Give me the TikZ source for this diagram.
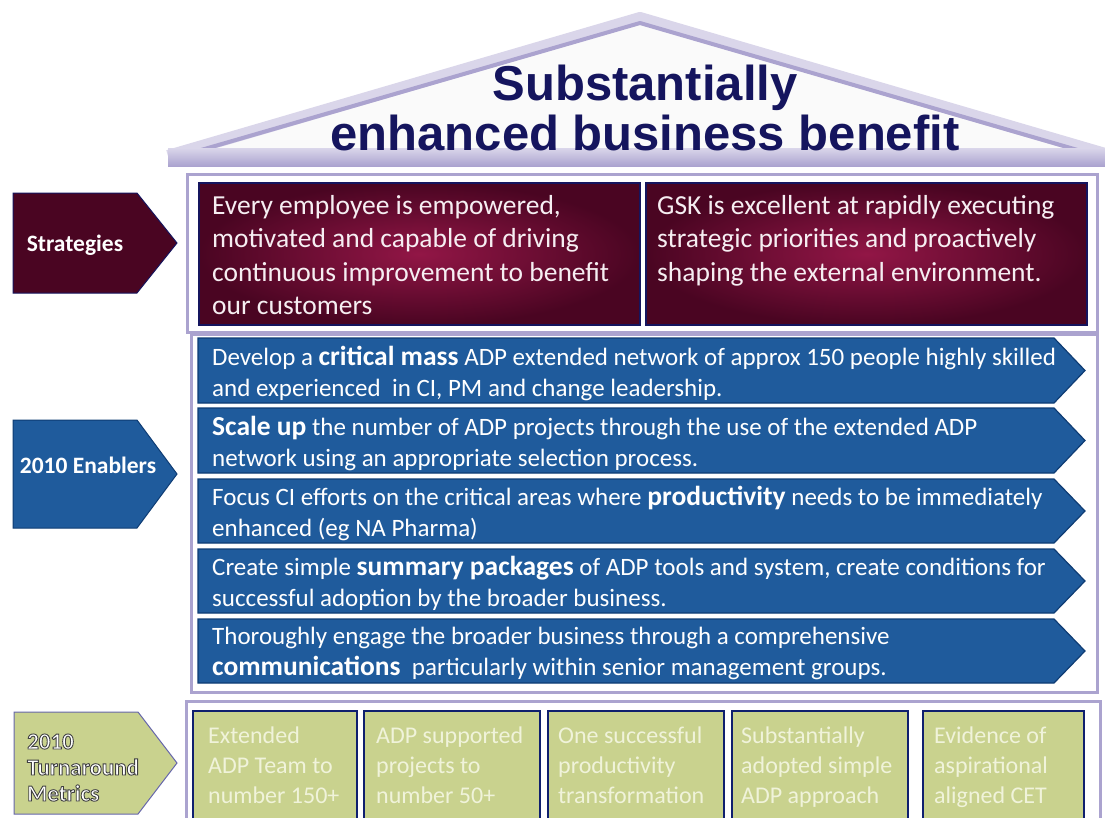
\documentclass[tikz,border=0pt]{standalone}
\usepackage{fontspec}
\setmainfont{Carlito}
\newfontfamily\titlefont{Liberation Sans}
\definecolor{navy}{HTML}{15155E}
\definecolor{lav}{HTML}{ABA3CF}
\definecolor{lavlight}{HTML}{DAD6EA}
\definecolor{maroonD}{HTML}{4A0522}
\definecolor{maroonM}{HTML}{921646}
\definecolor{purpleM}{HTML}{7C1A72}
\definecolor{enblue}{HTML}{1F5B9C}
\definecolor{enbluelt}{HTML}{4A7EBE}
\definecolor{enblueD}{HTML}{0E3C74}
\definecolor{mgreen}{HTML}{C9D28E}
\definecolor{mgreenlt}{HTML}{F0F3DA}
\definecolor{mborder}{HTML}{0F1F6E}
\definecolor{striptxt}{HTML}{F6EEF2}
\newcommand\outlinedtext[1]{\special{pdf:code 2 Tr 0.9 w 0.25 0.25 0.25 RG}#1\special{pdf:code 0 Tr}}
\newcommand\bigb[1]{{\bfseries\fontsize{27.5}{31}\selectfont #1}}
\begin{document}
\begin{tikzpicture}[x=1pt,y=-1pt,
  panel/.style={fill=white,draw=lav,line width=3pt},
  stratbox/.style={draw=navy,line width=1.5pt,inner color=maroonM,outer color=maroonD},
  stratxt/.style={anchor=base west,inner sep=0pt,align=left,text=striptxt,font=\fontsize{27.5}{33.5}\selectfont},
  enarrow/.style={fill=enblue,draw=enblueD,line width=1.2pt},
  entxt/.style={anchor=base west,inner sep=0pt,align=left,text=white,font=\fontsize{25}{31}\selectfont},
  metbox/.style={fill=mgreen,draw=mborder,line width=2.5pt},
  mettxt/.style={anchor=base west,inner sep=0pt,align=left,text=mgreenlt,font=\fontsize{24}{30}\selectfont},
  lbltxt/.style={inner sep=0pt,text=white,font=\bfseries\fontsize{23.5}{27}\selectfont},
]
\useasboundingbox (0,0) rectangle (1105,817);
\fill[white] (0,0) rectangle (1105,817);

% roof
\fill[black!2] (168,156) -- (640,18) -- (1112,156) -- cycle;
\draw[line width=12pt,color=lavlight,line join=round] (168,156) -- (640,18) -- (1112,156);
\draw[line width=4pt,color=lav,line join=round] (170,159) -- (640,23) -- (1112,160);
\shade[top color=lavlight,bottom color=lav] (168,148) rectangle (1105,166);

\node[font=\titlefont\bfseries\fontsize{49}{50}\selectfont,text=navy,align=center,anchor=base,inner sep=0pt] (title) at (645,150) {Substantially\\enhanced business benefit};

% panels
\draw[panel] (187,174) rectangle (1097,332);
\draw[panel] (191,334) rectangle (1097,692);
\draw[panel] (186,701) rectangle (1100,840);

% left labels
\shade[top color=maroonD,middle color=purpleM,bottom color=maroonD,draw=navy,line width=1pt] (13,193) -- (137,193) -- (177,243) -- (137,293) -- (13,293) -- cycle;
\node[lbltxt,anchor=base] (lstrat) at (75,251) {Strategies};

\shade[top color=enblue,middle color=enbluelt,bottom color=enblue,draw=enblueD,line width=1pt] (13,420) -- (137,420) -- (177,474) -- (137,528) -- (13,528) -- cycle;
\node[lbltxt,anchor=base] (lenab) at (88,473) {2010 Enablers};

\draw[fill=mgreen,draw=black!55!blue!60,line width=1pt] (14,712) -- (138,712) -- (177,763) -- (138,814) -- (14,814) -- cycle;
\node[lbltxt,anchor=base west,align=left,text=white,font=\bfseries\fontsize{23}{26}\selectfont] (lmet) at (27,801) {\outlinedtext{2010}\\\outlinedtext{Turnaround}\\\outlinedtext{Metrics}};

% strategies
\draw[stratbox] (199,183) rectangle (640,325);
\draw[stratbox] (646,183) rectangle (1087,325);
\node[stratxt] (s1) at (212,314.5) {Every employee is empowered,\\motivated and capable of driving\\continuous improvement to benefit\\our customers};
\node[stratxt] (s2) at (657,281) {GSK is excellent at rapidly executing\\strategic priorities and proactively\\shaping the external environment.};

% enablers
\draw[enarrow] (198,338) -- (1054,338) -- (1085,370.5) -- (1054,403) -- (198,403) -- cycle;
\draw[enarrow] (198,408) -- (1054,408) -- (1085,440.5) -- (1054,473) -- (198,473) -- cycle;
\draw[enarrow] (198,479) -- (1054,479) -- (1085,511) -- (1054,543) -- (198,543) -- cycle;
\draw[enarrow] (198,549) -- (1054,549) -- (1085,581) -- (1054,613) -- (198,613) -- cycle;
\draw[enarrow] (198,619) -- (1054,619) -- (1085,651) -- (1054,683) -- (198,683) -- cycle;
\node[entxt] (e1) at (212,396) {Develop a \bigb{critical mass} ADP extended network of approx 150 people highly skilled\\and experienced\ \ in CI, PM and change leadership.};
\node[entxt] (e2) at (212,466) {\bigb{Scale up} the number of ADP projects through the use of the extended ADP\\network using an appropriate selection process.};
\node[entxt] (e3) at (212,536) {Focus CI efforts on the critical areas where \bigb{productivity} needs to be immediately\\enhanced (eg NA Pharma)};
\node[entxt] (e4) at (212,606) {Create simple \bigb{summary packages} of ADP tools and system, create conditions for\\successful adoption by the broader business.};
\node[entxt] (e5) at (212,675) {Thoroughly engage the broader business through a comprehensive\\\bigb{communications}\ \ particularly within senior management groups.};

% metrics
\draw[metbox] (193,711) rectangle (357,840);
\draw[metbox] (364,711) rectangle (540,840);
\draw[metbox] (548,711) rectangle (724,840);
\draw[metbox] (732,711) rectangle (908,840);
\draw[metbox] (923,711) rectangle (1084,840);
\node[mettxt] (m1) at (208,803) {Extended\\ADP Team to\\number 150+};
\node[mettxt] (m2) at (376,803) {ADP supported\\projects to\\number 50+};
\node[mettxt] (m3) at (558,803) {One successful\\productivity\\transformation};
\node[mettxt] (m4) at (741,803) {Substantially\\adopted simple\\ADP approach};
\node[mettxt] (m5) at (934,803) {Evidence of\\aspirational\\aligned CET};
\end{tikzpicture}
\end{document}
